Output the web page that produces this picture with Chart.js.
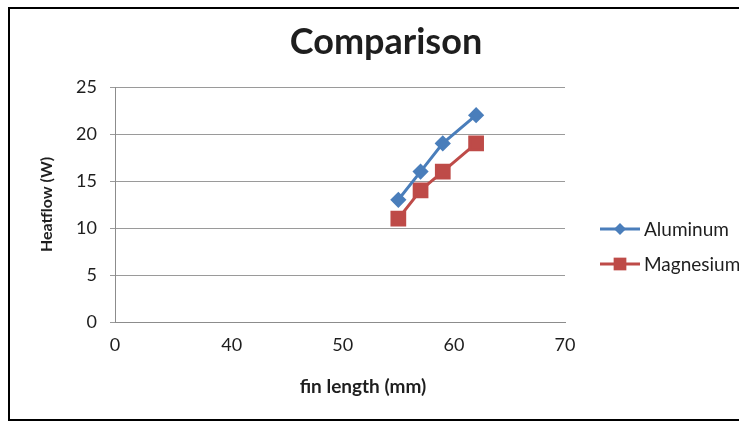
<!DOCTYPE html>
<html>
<head>
<meta charset="utf-8">
<script src="https://cdn.jsdelivr.net/npm/chart.js@4.4.0/dist/chart.umd.min.js"></script>
<style>
  html, body { margin: 0; padding: 0; background: #fff; }
  #wrap { position: relative; width: 739px; height: 425px; overflow: hidden; }
  #frame { position: absolute; left: 8px; top: 7px; width: 760px; height: 414px; border: 2px solid #000; box-sizing: border-box; }
  canvas { position: absolute; left: 0; top: 0; }
</style>
</head>
<body>
<div id="wrap">
  <div id="frame"></div>
  <canvas id="chart" width="739" height="425"></canvas>
</div>
<script>
const finLength = [55, 57, 59, 62];
const aluminum = [13, 16, 19, 22];
const magnesium = [11, 14, 16, 19];
// axis is broken in the original: the origin is labelled 0, then 40..70
const xMin = 29.5;
const xTicks = [xMin, 40, 50, 60, 70];
const yTicks = [0, 5, 10, 15, 20, 25];

const FONT = "Lato, 'Open Sans', sans-serif";
const TEXT = "#1e1e1e";

const toPoints = (xs, ys) => xs.map((x, i) => ({ x, y: ys[i] }));

// chart title, x title and an Excel-like legend (line + marker)
const extras = {
  id: "extras",
  afterDraw(chart) {
    const ctx = chart.ctx;
    const area = chart.chartArea;
    ctx.save();
    ctx.fillStyle = TEXT;
    ctx.textAlign = "center";
    ctx.textBaseline = "middle";
    ctx.font = "bold 36px " + FONT;
    ctx.fillText("Comparison", 386, 42);
    ctx.font = "bold 19px " + FONT;
    ctx.fillText("fin length (mm)", area.left + 248, 387);
    ctx.restore();

    const x0 = area.right + 35;
    const rows = [229, 264];
    chart.data.datasets.forEach((ds, i) => {
      const y = rows[i];
      ctx.save();
      ctx.strokeStyle = ds.borderColor;
      ctx.lineWidth = 3;
      ctx.beginPath();
      ctx.moveTo(x0, y);
      ctx.lineTo(x0 + 40, y);
      ctx.stroke();
      ctx.fillStyle = ds.pointBackgroundColor;
      ctx.strokeStyle = ds.pointBorderColor;
      ctx.lineWidth = 1;
      Chart.helpers.drawPoint(ctx, { pointStyle: ds.pointStyle, radius: ds.pointRadius, rotation: 0 }, x0 + 20, y);
      ctx.fillStyle = TEXT;
      ctx.font = "19px " + FONT;
      ctx.textBaseline = "middle";
      ctx.fillText(ds.label, x0 + 44, y + 1);
      ctx.restore();
    });
  }
};

new Chart(document.getElementById("chart"), {
  type: "line",
  data: {
    datasets: [
      {
        label: "Aluminum",
        data: toPoints(finLength, aluminum),
        borderColor: "#4A7EBB",
        backgroundColor: "#4A7EBB",
        pointBackgroundColor: "#4A7EBB",
        pointBorderColor: "#4A7EBB",
        pointStyle: "rectRot",
        pointRadius: 6,
        borderWidth: 3,
        tension: 0
      },
      {
        label: "Magnesium",
        data: toPoints(finLength, magnesium),
        borderColor: "#BE4B48",
        backgroundColor: "#BE4B48",
        pointBackgroundColor: "#BE4B48",
        pointBorderColor: "#BE4B48",
        pointStyle: "rect",
        pointRadius: 9,
        borderWidth: 3,
        tension: 0
      }
    ]
  },
  options: {
    responsive: false,
    animation: false,
    layout: { padding: { left: 35, right: 174, top: 87, bottom: 43 } },
    plugins: {
      legend: { display: false },
      tooltip: { enabled: false },
      title: { display: false }
    },
    scales: {
      x: {
        type: "linear",
        min: xMin,
        max: 70,
        afterBuildTicks: (scale) => { scale.ticks = xTicks.map((v) => ({ value: v })); },
        afterFit: (scale) => { scale.height = 60; },
        ticks: {
          color: TEXT,
          font: { family: FONT, size: 18 },
          padding: 12,
          callback: (v) => (v === xMin ? "0" : String(v))
        },
        grid: { display: false, drawTicks: false },
        border: { display: true, color: "#8c8c8c", width: 1 }
      },
      y: {
        min: 0,
        max: 25,
        afterBuildTicks: (scale) => { scale.ticks = yTicks.map((v) => ({ value: v })); },
        afterFit: (scale) => { scale.width = 80; },
        ticks: {
          color: TEXT,
          font: { family: FONT, size: 18 },
          padding: 13
        },
        grid: { color: "#9a9a9a", lineWidth: 1, tickLength: 5, drawTicks: true },
        border: { display: true, color: "#8c8c8c", width: 1 },
        title: {
          display: true,
          text: "Heatflow (W)",
          color: TEXT,
          font: { family: FONT, size: 16, weight: "bold" },
          padding: { top: 2, bottom: 0 }
        }
      }
    }
  },
  plugins: [extras]
});
</script>
</body>
</html>
